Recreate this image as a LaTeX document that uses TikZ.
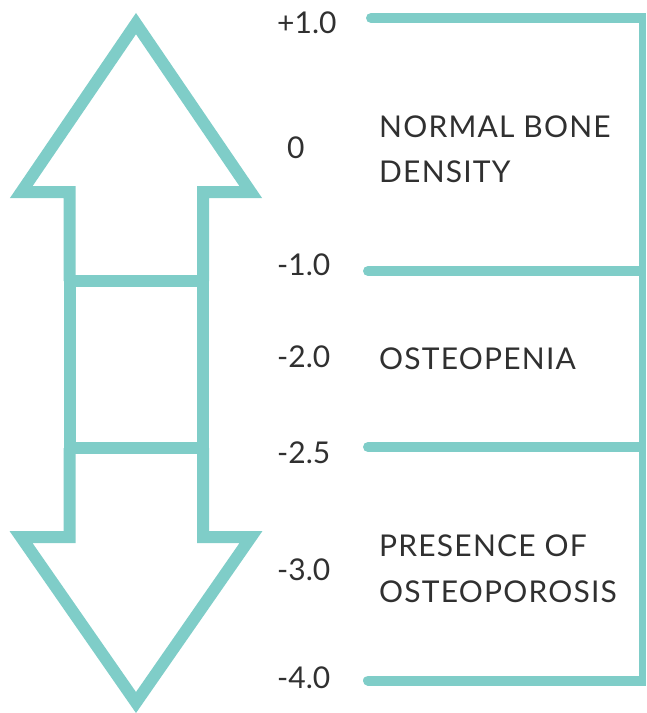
\documentclass[tikz,border=0pt]{standalone}
\usepackage{fontspec}
\setmainfont[LetterSpace=4]{Lato}
\newfontfamily\numfont{Lato}
\definecolor{bonet}{HTML}{7FCDC8}
\definecolor{ink}{HTML}{303030}
\begin{document}
\begin{tikzpicture}[x=1pt,y=-1pt,
  outline/.style={draw=bonet, line width=12pt, line join=miter, miter limit=20},
  tickline/.style={draw=bonet, line width=10pt, line cap=round},
  num/.style={anchor=base west, inner sep=0pt, text=ink, font=\numfont\fontsize{30}{36}\selectfont},
  lbl/.style={anchor=base west, inner sep=0pt, text=ink, font=\fontsize{30}{36}\selectfont}]
\useasboundingbox (0,0) rectangle (646,713);

% up arrow
\draw[outline] (69.5,281) -- (69.5,192) -- (21.3,192) -- (136,23.6) -- (250.7,192) -- (203,192) -- (203,281);
% middle box
\draw[outline] (69.5,281) rectangle (203,448);
% down arrow
\draw[outline] (69.5,448) -- (69.5,537) -- (21,537) -- (136,702.5) -- (251,537) -- (203,537) -- (203,448);

% scale values
\node[num] (p1) at (277,33) {+1.0};
\node[num] (z0) at (287,158.5) {0};
\node[num] (m1) at (277,275) {-1.0};
\node[num] (m2) at (277,367) {-2.0};
\node[num] (m25) at (277,463) {-2.5};
\node[num] (m3) at (277,580) {-3.0};
\node[num] (m4) at (277,688) {-4.0};

% bracket lines
\coordinate (a1) at (371,18);   \coordinate (b1) at (640,18);
\coordinate (a2) at (368,271);  \coordinate (b2) at (640,271);
\coordinate (a3) at (368,447);  \coordinate (b3) at (640,447);
\coordinate (a4) at (368,680.5);  \coordinate (b4) at (640,680.5);
\draw[tickline] (a1) -- (b1);
\draw[tickline] (a2) -- (b2);
\draw[tickline] (a3) -- (b3);
\draw[tickline] (a4) -- (b4);
\coordinate (vt) at (639,13);
\coordinate (vb) at (646,685.5);
\fill[bonet] (vt) rectangle (vb);

% labels
\node[lbl] (n1) at (379,137) {NORMAL BONE};
\node[lbl] (n2) at (379,182.5) {DENSITY};
\node[lbl] (o1) at (379,369) {OSTEOPENIA};
\node[lbl] (q1) at (379,556.5) {PRESENCE OF};
\node[lbl] (q2) at (379,602.5) {OSTEOPOROSIS};
\end{tikzpicture}
\end{document}
